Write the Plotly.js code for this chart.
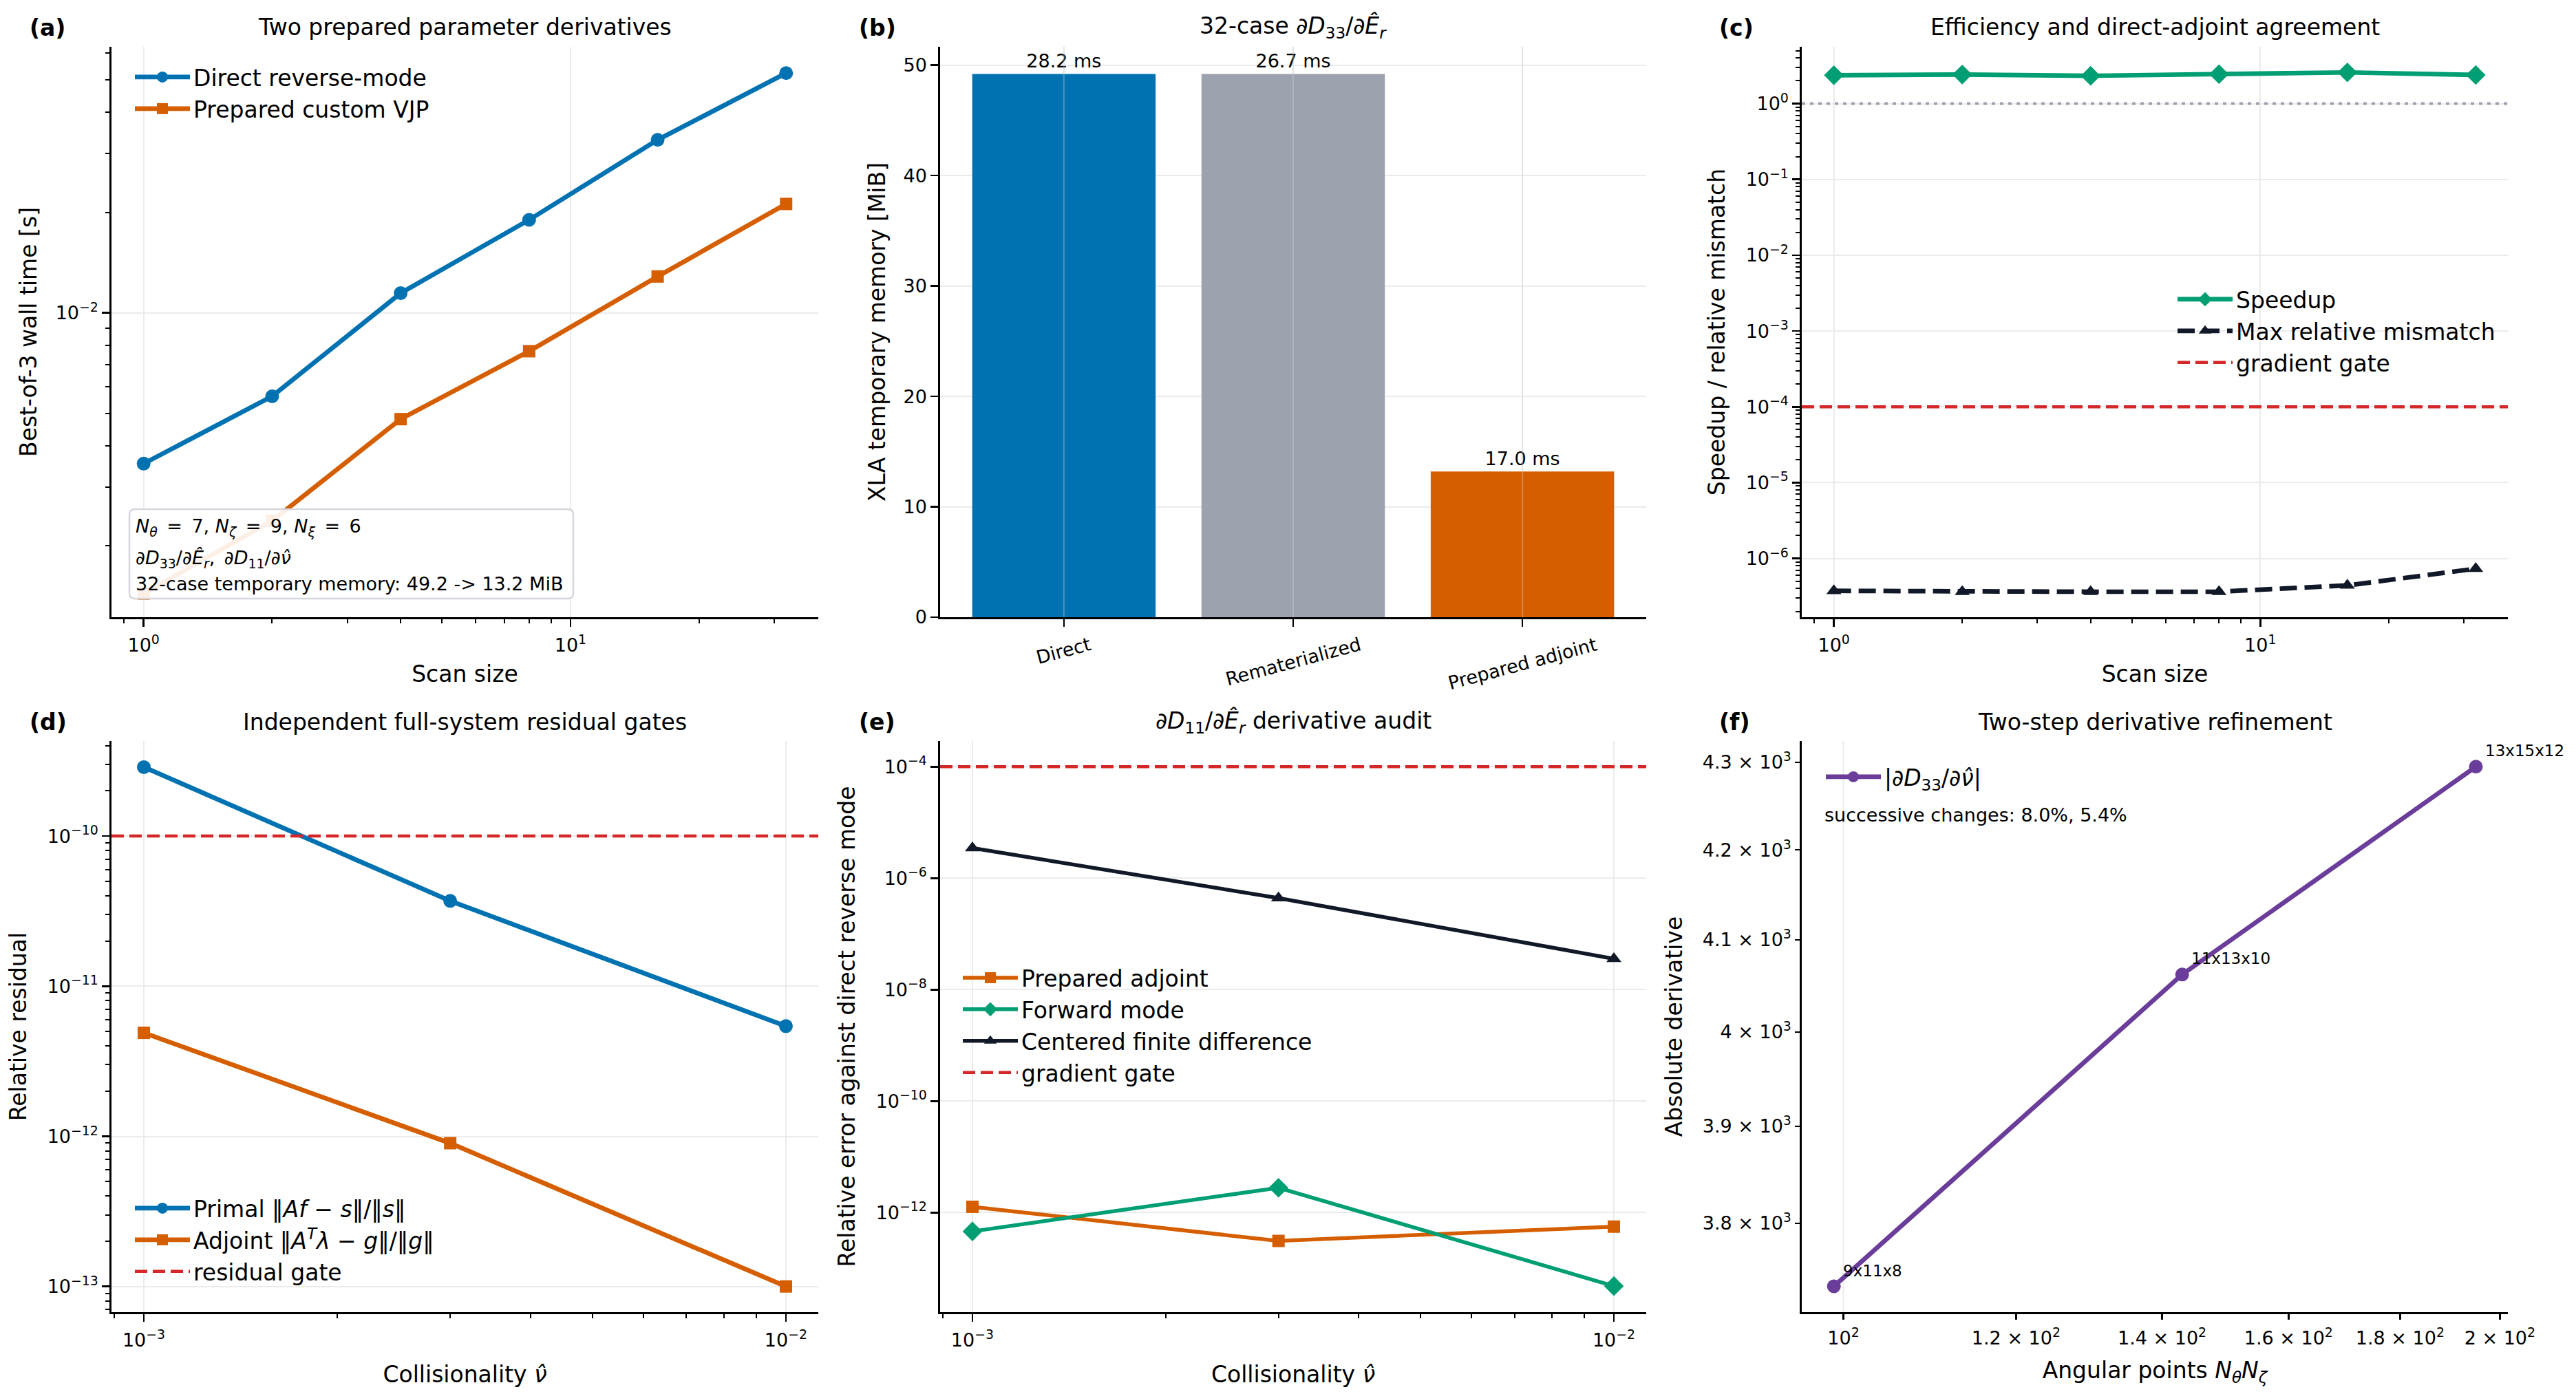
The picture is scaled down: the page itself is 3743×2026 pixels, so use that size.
<!DOCTYPE html>
<html>
<head>
<meta charset="utf-8">
<script src="https://cdn.plot.ly/plotly-3.0.1.min.js"></script>
<style>html,body{margin:0;padding:0;background:#fff}</style>
</head>
<body>
<div id="chart" style="width:3743px;height:2026px"></div>
<script>
// ---- (a) wall time against scan size ----
const scanSizes = [1, 2, 4, 8, 16, 32];
const directTime = [0.00353, 0.00562, 0.01145, 0.0190, 0.0330, 0.0523];
const preparedTime = [0.00144, 0.00238, 0.0048, 0.00767, 0.01285, 0.0212];

// ---- (b) temporary memory of the 32-case derivative ----
const memCategories = ['Direct', 'Rematerialized', 'Prepared adjoint'];
const memMiB = [49.2, 49.2, 13.2];
const memTimeMs = [28.2, 26.7, 17.0];

// ---- (c) speedup and direct/adjoint agreement ----
const speedup = [2.37, 2.42, 2.33, 2.45, 2.58, 2.39];
const maxMismatch = [3.73e-7, 3.63e-7, 3.63e-7, 3.63e-7, 4.4e-7, 7.3e-7];
const gradientGate = 1e-4;
const parityLevel = 1;

// ---- (d) residual gates ----
const collisionality = [1e-3, 3e-3, 1e-2];
const primalResidual = [2.88e-10, 3.70e-11, 5.42e-12];
const adjointResidual = [4.89e-12, 9.0e-13, 1.0e-13];
const residualGate = 1e-10;

// ---- (e) derivative audit ----
const auditPrepared = [1.27e-12, 3.1e-13, 5.6e-13];
const auditForward = [4.6e-13, 2.79e-12, 4.8e-14];
const auditFiniteDiff = [3.47e-6, 4.4e-7, 3.58e-8];

// ---- (f) refinement ----
const gridLabels = ['9x11x8', '11x13x10', '13x15x12'];
const angularPoints = [99, 143, 195];
const dD33dnu = [3736, 4062, 4295];
const fXTicks = [100, 120, 140, 160, 180, 200];
const fXTickText = ['10<sup>2</sup>', '1.2 \u00d7 10<sup>2</sup>', '1.4 \u00d7 10<sup>2</sup>', '1.6 \u00d7 10<sup>2</sup>', '1.8 \u00d7 10<sup>2</sup>', '2 \u00d7 10<sup>2</sup>'];
const fYTicks = [3800, 3900, 4000, 4100, 4200, 4300];
const fYTickText = ['3.8 \u00d7 10<sup>3</sup>', '3.9 \u00d7 10<sup>3</sup>', '4 \u00d7 10<sup>3</sup>', '4.1 \u00d7 10<sup>3</sup>', '4.2 \u00d7 10<sup>3</sup>', '4.3 \u00d7 10<sup>3</sup>'];

// ---- page geometry (pixels -> paper fractions) ----
const W = 3743, H = 2026;
const X = p => p / W;
const Y = p => 1 - p / H;
const FONT = 'DejaVu Sans, Verdana, sans-serif';
const INK = '#000000';
const BLUE = '#0072B2', ORANGE = '#D55E00', GREEN = '#009E73', GREY = '#9CA3AF';
const NAVY = '#111827', RED = '#D62728', PURPLE = '#6A3D9A', GRID = '#ebebeb';

const colX = [[162, 1189], [1366, 2392], [2618, 3644]];
const rowY = [[68, 897], [1077, 1907]];
const xDom = c => [X(colX[c][0]), X(colX[c][1])];
const yDom = r => [Y(rowY[r][1]), Y(rowY[r][0])];

function pow10Label(k) {
  return '10<sup>' + (k < 0 ? '\u2212' : '') + Math.abs(k) + '</sup>';
}
function decadeTicks(kLo, kHi, step) {
  const tickvals = [], ticktext = [];
  for (let k = kLo; k <= kHi; k += step) {
    tickvals.push(Math.pow(10, k));
    ticktext.push(pow10Label(k));
  }
  return {tickmode: 'array', tickvals, ticktext};
}
function minorLog(kLo, kHi) {
  const v = [];
  for (let k = kLo; k <= kHi; k++) for (let m = 2; m <= 9; m++) v.push(m * Math.pow(10, k));
  return {tickmode: 'array', tickvals: v, ticks: 'outside', ticklen: 6.5, tickwidth: 2, tickcolor: INK, showgrid: false};
}
function axis(domain, anchor, extra) {
  return Object.assign({
    domain, anchor,
    showline: true, linecolor: INK, linewidth: 2.7, mirror: false,
    ticks: 'outside', ticklen: 11, tickwidth: 2.7, tickcolor: INK,
    showgrid: true, gridcolor: GRID, gridwidth: 2,
    zeroline: false, fixedrange: true,
    tickfont: {family: FONT, size: 27, color: INK}
  }, extra);
}
function axTitle(text, standoff) {
  return {text, standoff, font: {family: FONT, size: 33, color: INK}};
}

const lw = 6.7;
const traces = [
  // (a)
  {x: scanSizes, y: directTime, name: 'Direct reverse-mode', mode: 'lines+markers',
   line: {color: BLUE, width: lw}, marker: {symbol: 'circle', size: 20, color: BLUE},
   xaxis: 'x', yaxis: 'y', legend: 'legend'},
  {x: scanSizes, y: preparedTime, name: 'Prepared custom VJP', mode: 'lines+markers',
   line: {color: ORANGE, width: lw}, marker: {symbol: 'square', size: 18, color: ORANGE},
   xaxis: 'x', yaxis: 'y', legend: 'legend'},
  // (b)
  {type: 'bar', x: memCategories, y: memMiB, width: 0.8,
   marker: {color: [BLUE, GREY, ORANGE], line: {width: 0}},
   text: memTimeMs.map(t => t.toFixed(1) + ' ms'), textposition: 'outside',
   textfont: {family: FONT, size: 27, color: INK}, cliponaxis: false,
   showlegend: false, xaxis: 'x2', yaxis: 'y2'},
  // (c)
  {x: scanSizes, y: speedup, name: 'Speedup', mode: 'lines+markers',
   line: {color: GREEN, width: lw}, marker: {symbol: 'diamond', size: 22, color: GREEN},
   xaxis: 'x3', yaxis: 'y3', legend: 'legend2'},
  {x: scanSizes, y: maxMismatch, name: 'Max relative mismatch', mode: 'lines+markers',
   line: {color: NAVY, width: lw, dash: '25px,11px'}, marker: {symbol: 'triangle-up', size: 19, color: NAVY},
   xaxis: 'x3', yaxis: 'y3', legend: 'legend2'},
  // (d)
  {x: collisionality, y: primalResidual,
   name: 'Primal \u2016<i>Af</i> \u2212 <i>s</i>\u2016/\u2016<i>s</i>\u2016', mode: 'lines+markers',
   line: {color: BLUE, width: lw}, marker: {symbol: 'circle', size: 20, color: BLUE},
   xaxis: 'x4', yaxis: 'y4', legend: 'legend3'},
  {x: collisionality, y: adjointResidual,
   name: 'Adjoint \u2016<i>A</i><sup><i>T</i></sup><i>\u03bb</i> \u2212 <i>g</i>\u2016/\u2016<i>g</i>\u2016', mode: 'lines+markers',
   line: {color: ORANGE, width: lw}, marker: {symbol: 'square', size: 18, color: ORANGE},
   xaxis: 'x4', yaxis: 'y4', legend: 'legend3'},
  // (e)
  {x: collisionality, y: auditPrepared, name: 'Prepared adjoint', mode: 'lines+markers',
   line: {color: ORANGE, width: 5.5}, marker: {symbol: 'square', size: 18, color: ORANGE},
   xaxis: 'x5', yaxis: 'y5', legend: 'legend4'},
  {x: collisionality, y: auditForward, name: 'Forward mode', mode: 'lines+markers',
   line: {color: GREEN, width: 5.5}, marker: {symbol: 'diamond', size: 22, color: GREEN},
   xaxis: 'x5', yaxis: 'y5', legend: 'legend4'},
  {x: collisionality, y: auditFiniteDiff, name: 'Centered finite difference', mode: 'lines+markers',
   line: {color: NAVY, width: 5.5}, marker: {symbol: 'triangle-up', size: 19, color: NAVY},
   xaxis: 'x5', yaxis: 'y5', legend: 'legend4'},
  // (f)
  {x: angularPoints, y: dD33dnu, name: '|\u2202<i>D</i><sub>33</sub>/\u2202<i>\u03bd\u0302</i>|', mode: 'lines+markers',
   line: {color: PURPLE, width: lw}, marker: {symbol: 'circle', size: 20, color: PURPLE},
   xaxis: 'x6', yaxis: 'y6', legend: 'legend5'}
];

// rounded box behind the run summary in (a)
function roundedRect(x0, y0, x1, y1, r) {
  const a = X(x0), b = X(x1), t = Y(y0), u = Y(y1), rx = r / W, ry = r / H;
  return 'M' + (a + rx) + ',' + t + ' L' + (b - rx) + ',' + t + ' Q' + b + ',' + t + ' ' + b + ',' + (t - ry) +
    ' L' + b + ',' + (u + ry) + ' Q' + b + ',' + u + ' ' + (b - rx) + ',' + u +
    ' L' + (a + rx) + ',' + u + ' Q' + a + ',' + u + ' ' + a + ',' + (u + ry) +
    ' L' + a + ',' + (t - ry) + ' Q' + a + ',' + t + ' ' + (a + rx) + ',' + t + ' Z';
}

const gateLine = (xa, ya, yv, name, legend) => ({
  type: 'line', xref: xa + ' domain', x0: 0, x1: 1, yref: ya, y0: yv, y1: yv,
  line: {color: RED, width: 4.5, dash: '18px,8px'}, layer: 'above',
  showlegend: true, name, legend
});

const shapes = [
  {type: 'path', xref: 'paper', yref: 'paper', path: roundedRect(188, 740, 833, 870, 8),
   fillcolor: 'rgba(255,255,255,0.9)', line: {color: '#d4d7dd', width: 2.5}, layer: 'above'},
  {type: 'line', xref: 'x3 domain', x0: 0, x1: 1, yref: 'y3', y0: parityLevel, y1: parityLevel,
   line: {color: GREY, width: 4, dash: '5px,7px'}, layer: 'above'},
  gateLine('x3', 'y3', gradientGate, 'gradient gate', 'legend2'),
  gateLine('x4', 'y4', residualGate, 'residual gate', 'legend3'),
  gateLine('x5', 'y5', gradientGate, 'gradient gate', 'legend4'),
  {type: 'line', xref: 'x6', x0: 100, x1: 100, yref: 'y6 domain', y0: 0, y1: 1,
   line: {color: GRID, width: 2}, layer: 'below'}
];
// faint category grid drawn over the bars
memCategories.forEach(c => shapes.push({
  type: 'line', xref: 'x2', x0: c, x1: c, yref: 'y2 domain', y0: 0, y1: 1,
  line: {color: 'rgba(215,215,215,0.35)', width: 2}, layer: 'above'
}));

const annotations = [];
const txt = (text, x, y, opts) => annotations.push(Object.assign({
  text, x, y, xref: 'paper', yref: 'paper', showarrow: false,
  font: {family: FONT, size: 33, color: INK}
}, opts));

// panel titles and letters
const titles = [
  ['Two prepared parameter derivatives', 0, 0],
  ['32-case \u2202<i>D</i><sub>33</sub>/\u2202<i>\u00ca</i><sub><i>r</i></sub>', 1, 0],
  ['Efficiency and direct-adjoint agreement', 2, 0],
  ['Independent full-system residual gates', 0, 1],
  ['\u2202<i>D</i><sub>11</sub>/\u2202<i>\u00ca</i><sub><i>r</i></sub> derivative audit', 1, 1],
  ['Two-step derivative refinement', 2, 1]
];
const titleY = [39, 1049];
titles.forEach(([t, c, r]) => txt(t, X((colX[c][0] + colX[c][1]) / 2), Y(titleY[r]), {xanchor: 'center', yanchor: 'middle'}));
const letters = ['(a)', '(b)', '(c)', '(d)', '(e)', '(f)'];
const letterX = [41, 1246, 2496];
letters.forEach((l, i) => txt('<b>' + l + '</b>', X(letterX[i % 3]), Y(i < 3 ? 41 : 1049), {xanchor: 'left', yanchor: 'middle'}));

// run summary in (a)
const small = {family: FONT, size: 27, color: INK};
const EQ = '\u2002=\u2002';
txt('<i>N</i><sub><i>\u03b8</i></sub>' + EQ + '7, <i>N</i><sub><i>\u03b6</i></sub>' + EQ + '9, <i>N</i><sub><i>\u03be</i></sub>' + EQ + '6',
    X(195), Y(766), {xanchor: 'left', yanchor: 'middle', font: small});
txt('\u2202<i>D</i><sub>33</sub>/\u2202<i>\u00ca</i><sub><i>r</i></sub>,\u2002\u2202<i>D</i><sub>11</sub>/\u2202<i>\u03bd\u0302</i>',
    X(195), Y(813), {xanchor: 'left', yanchor: 'middle', font: small});
txt('32-case temporary memory: ' + memMiB[0].toFixed(1) + ' -&gt; ' + memMiB[2].toFixed(1) + ' MiB',
    X(195), Y(849), {xanchor: 'left', yanchor: 'middle', font: small});

// rotated category labels in (b)
memCategories.forEach(c => annotations.push({
  text: c, x: c, xref: 'x2', y: Y(918), yref: 'paper', showarrow: false,
  xanchor: 'center', yanchor: 'top', textangle: -15, font: small
}));

// grid labels and relative changes in (f)
gridLabels.forEach((g, i) => annotations.push({
  text: g, x: Math.log10(angularPoints[i]), y: Math.log10(dD33dnu[i]), xref: 'x6', yref: 'y6',
  showarrow: false, xanchor: 'left', yanchor: 'bottom', xshift: 11, yshift: 8,
  font: {family: FONT, size: 23, color: INK}
}));
const changes = [];
for (let i = 1; i < dD33dnu.length; i++) changes.push((100 * (dD33dnu[i] - dD33dnu[i - 1]) / dD33dnu[i]).toFixed(1) + '%');
txt('successive changes: ' + changes.join(', '), X(2649), Y(1184), {xanchor: 'left', yanchor: 'middle', font: small});

const legendBase = {
  font: {family: FONT, size: 33, color: INK}, bgcolor: 'rgba(0,0,0,0)', borderwidth: 0,
  xanchor: 'left', yanchor: 'top', itemwidth: 80, tracegroupgap: 0
};

const layout = {
  width: W, height: H,
  margin: {l: 0, r: 0, t: 0, b: 0},
  paper_bgcolor: '#ffffff', plot_bgcolor: '#ffffff',
  font: {family: FONT, size: 27, color: INK},
  showlegend: true,
  legend: Object.assign({}, legendBase, {x: X(191), y: Y(84)}),
  legend2: Object.assign({}, legendBase, {x: X(3159), y: Y(407)}),
  legend3: Object.assign({}, legendBase, {x: X(191), y: Y(1728)}),
  legend4: Object.assign({}, legendBase, {x: X(1394), y: Y(1393)}),
  legend5: Object.assign({}, legendBase, {x: X(2648), y: Y(1101)}),

  xaxis: axis(xDom(0), 'y', Object.assign({type: 'log', range: [-0.0753, 1.5805], ticklabelstandoff: 4,
    minor: minorLog(-1, 1), title: axTitle('Scan size', 16)}, decadeTicks(0, 1, 1))),
  yaxis: axis(yDom(0), 'x', Object.assign({type: 'log', range: [-2.9125, -1.2025],
    minor: minorLog(-3, -2), title: axTitle('Best-of-3 wall time [s]', 17)}, decadeTicks(-3, -1, 1))),

  xaxis2: axis(xDom(1), 'y2', {type: 'category', range: [-0.54, 2.54], showticklabels: false}),
  yaxis2: axis(yDom(0), 'x2', {range: [0, 51.66], tick0: 0, dtick: 10,
    title: axTitle('XLA temporary memory [MiB]', 16)}),

  xaxis3: axis(xDom(2), 'y3', Object.assign({type: 'log', range: [-0.0753, 1.5805], ticklabelstandoff: 4,
    minor: minorLog(-1, 1), title: axTitle('Scan size', 16)}, decadeTicks(0, 1, 1))),
  yaxis3: axis(yDom(0), 'x3', Object.assign({type: 'log', range: [-6.776, 0.750],
    minor: minorLog(-7, 0), title: axTitle('Speedup / relative mismatch', 20)}, decadeTicks(-7, 1, 1))),

  xaxis4: axis(xDom(0), 'y4', Object.assign({type: 'log', range: [-3.0504, -1.9496], ticklabelstandoff: 4,
    minor: minorLog(-4, -2), title: axTitle('Collisionality <i>\u03bd\u0302</i>', 24)}, decadeTicks(-3, -2, 1))),
  yaxis4: axis(yDom(1), 'x4', Object.assign({type: 'log', range: [-13.171, -9.367],
    minor: minorLog(-14, -10), title: axTitle('Relative residual', 20)}, decadeTicks(-13, -10, 1))),

  xaxis5: axis(xDom(1), 'y5', Object.assign({type: 'log', range: [-3.0504, -1.9496], ticklabelstandoff: 4,
    minor: minorLog(-4, -2), title: axTitle('Collisionality <i>\u03bd\u0302</i>', 24)}, decadeTicks(-3, -2, 1))),
  yaxis5: axis(yDom(1), 'x5', Object.assign({type: 'log', range: [-13.786, -3.539],
    title: axTitle('Relative error against direct reverse mode', 20)}, decadeTicks(-12, -4, 2))),

  xaxis6: axis(xDom(2), 'y6', {type: 'log', range: [1.9809, 2.3047], showgrid: false, ticklabelstandoff: 4,
    tickmode: 'array', tickvals: fXTicks, ticktext: fXTickText, ticklen: 8,
    title: axTitle('Angular points <i>N</i><sub><i>\u03b8</i></sub><i>N</i><sub><i>\u03b6</i></sub>', 21)}),
  yaxis6: axis(yDom(1), 'x6', {type: 'log', range: [3.5694, 3.63595], showgrid: false,
    tickmode: 'array', tickvals: fYTicks, ticktext: fYTickText, ticklen: 7, tickwidth: 2,
    title: axTitle('Absolute derivative', 20)}),

  shapes, annotations
};

Plotly.newPlot('chart', traces, layout, {staticPlot: true, displayModeBar: false});
</script>
</body>
</html>
